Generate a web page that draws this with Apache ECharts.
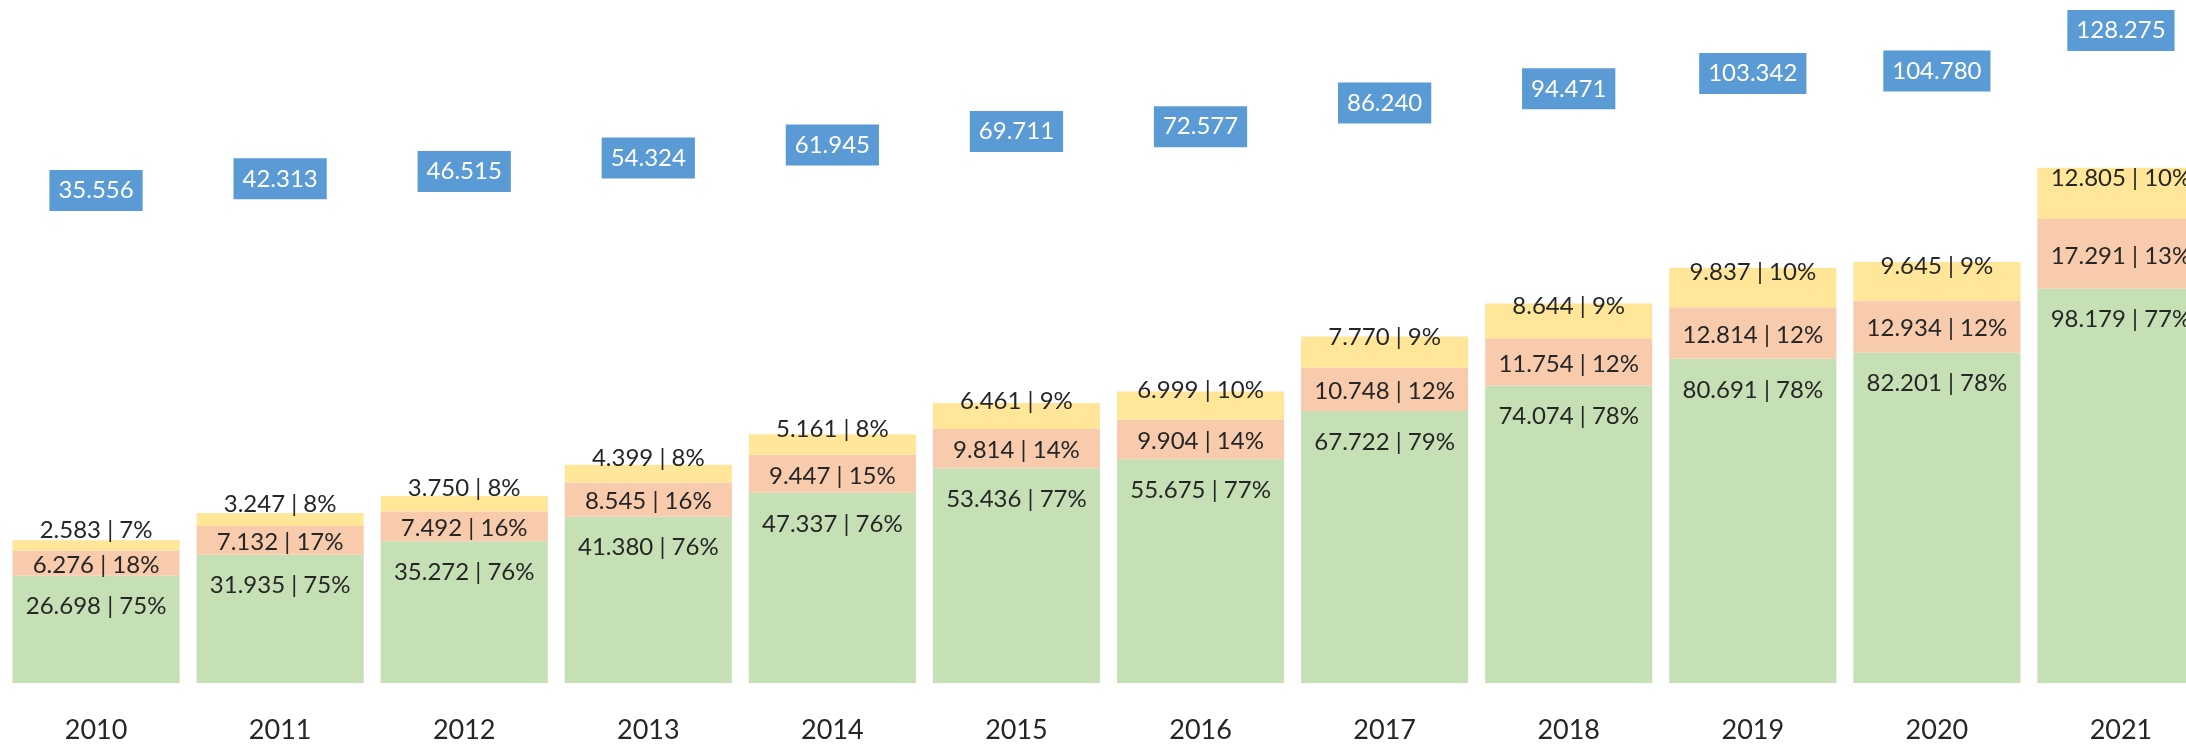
<!DOCTYPE html>
<html>
<head>
<meta charset="utf-8">
<script src="https://cdn.jsdelivr.net/npm/echarts@6/dist/echarts.min.js"></script>
<style>
  html, body { margin: 0; padding: 0; background: #fff; overflow: hidden; }
  /* the last bar is cut by the right edge in the original, so the chart is wider than the page */
  #main { width: 2213px; height: 745px; }
</style>
</head>
<body>
<div id="main"></div>
<script>
var years = ["2010", "2011", "2012", "2013", "2014", "2015", "2016", "2017", "2018", "2019", "2020", "2021"];
var greenVals = [26.698, 31.935, 35.272, 41.380, 47.337, 53.436, 55.675, 67.722, 74.074, 80.691, 82.201, 98.179];
var greenPct = [75, 75, 76, 76, 76, 77, 77, 79, 78, 78, 78, 77];
var orangeVals = [6.276, 7.132, 7.492, 8.545, 9.447, 9.814, 9.904, 10.748, 11.754, 12.814, 12.934, 17.291];
var orangePct = [18, 17, 16, 16, 15, 14, 14, 12, 12, 12, 12, 13];
var yellowVals = [2.583, 3.247, 3.750, 4.399, 5.161, 6.461, 6.999, 7.770, 8.644, 9.837, 9.645, 12.805];
var yellowPct = [7, 8, 8, 8, 8, 9, 10, 9, 9, 10, 9, 10];
var totals = [35.556, 42.313, 46.515, 54.324, 61.945, 69.711, 72.577, 86.240, 94.471, 103.342, 104.780, 128.275];

var textFont = "Lato, 'Open Sans', sans-serif";

// etiqueta "26.698 | 75%"
function stackLabel(pcts) {
  return function (p) {
    return p.value.toFixed(3) + " | " + pcts[p.dataIndex] + "%";
  };
}

var chart = echarts.init(document.getElementById("main"));
chart.setOption({
  animation: false,
  grid: { left: 4, right: 0, top: 0, bottom: 62, containLabel: false },
  xAxis: {
    type: "category",
    data: years,
    axisLine: { show: false },
    axisTick: { show: false },
    axisLabel: { color: "#262626", fontSize: 27, fontFamily: textFont, margin: 34 }
  },
  yAxis: [
    { type: "value", min: 0, max: 170, show: false, splitLine: { show: false } },
    { type: "value", min: -250, max: 146, show: false, splitLine: { show: false } }
  ],
  series: [
    {
      name: "green",
      type: "bar",
      stack: "total",
      barCategoryGap: "9.2%",
      data: greenVals,
      itemStyle: { color: "#C5E0B4" },
      label: {
        show: true,
        position: "insideTop",
        offset: [0, 14],
        color: "#262626",
        fontSize: 24,
        fontFamily: textFont,
        formatter: stackLabel(greenPct)
      }
    },
    {
      name: "orange",
      type: "bar",
      stack: "total",
      data: orangeVals,
      itemStyle: { color: "#F8CBAD" },
      label: {
        show: true,
        position: "inside",
        offset: [0, 2],
        color: "#262626",
        fontSize: 24,
        fontFamily: textFont,
        formatter: stackLabel(orangePct)
      }
    },
    {
      name: "yellow",
      type: "bar",
      stack: "total",
      data: yellowVals,
      itemStyle: { color: "#FFE699" },
      label: {
        show: true,
        position: "inside",
        offset: [0, -15],
        color: "#262626",
        fontSize: 24,
        fontFamily: textFont,
        formatter: stackLabel(yellowPct)
      }
    },
    {
      name: "total",
      type: "line",
      yAxisIndex: 1,
      data: totals,
      symbol: "circle",
      symbolSize: 0,
      lineStyle: { width: 0, opacity: 0 },
      itemStyle: { color: "transparent" },
      label: {
        show: true,
        position: "inside",
        color: "#fff",
        fontSize: 24,
        fontFamily: textFont,
        backgroundColor: "#5B9BD5",
        padding: [9, 9, 8, 9],
        formatter: function (p) { return p.value.toFixed(3); }
      }
    }
  ]
});
</script>
</body>
</html>
